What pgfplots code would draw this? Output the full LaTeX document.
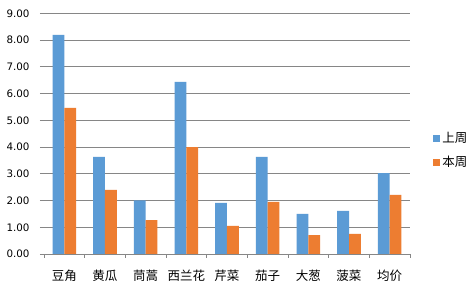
\documentclass[border=0pt]{standalone}
\usepackage{pgfplots}
\pgfplotsset{compat=1.18}
\usepackage{fontspec}
\setmainfont{DejaVu Sans}
\newfontfamily\cjk{Noto Sans CJK SC}
\definecolor{cblue}{HTML}{5B9BD5}
\definecolor{corange}{HTML}{ED7D31}
\definecolor{gridgray}{RGB}{134,134,134}
\begin{document}
\begin{tikzpicture}
\useasboundingbox (0,0) rectangle (471pt,288pt);
\fill[white] (0,0) rectangle (471pt,288pt);
\begin{axis}[
  at={(44pt,34pt)}, anchor=south west,
  scale only axis, width=366pt, height=240.5pt,
  ybar=0pt, bar width=11.8pt,
  xmin=-0.5, xmax=8.5, ymin=0, ymax=9,
  xtick={-0.5,0.5,...,8.5}, xticklabels={},
  extra x ticks={0,1,2,3,4,5,6,7,8},
  extra x tick labels={豆角,黄瓜,茼蒿,西兰花,芹菜,茄子,大葱,菠菜,均价},
  extra x tick style={tick style={draw=none}, xticklabel style={font=\cjk\fontsize{12.5}{12.5}\selectfont, yshift=-8pt}},
  ytick={0,1,...,9},
  yticklabel={\pgfmathprintnumber[fixed,fixed zerofill,precision=2,assume math mode=true]{\tick}},
  yticklabel style={font=\fontsize{10.3}{12}\selectfont, xshift=-7pt},
  axis line style={draw=none},
  ymajorgrids, grid style={gridgray, line width=0.9pt},
  tick align=outside, xtick pos=bottom, ytick pos=left,
  major tick length=4pt,
  tick style={gridgray, line width=0.9pt},
  legend style={at={(1.055,0.43)}, anchor=west, draw=none, fill=none,
    font=\cjk\fontsize{12.5}{12.5}\selectfont, row sep=8pt},
  legend image code/.code={\fill[#1,draw=none] (0pt,-3.5pt) rectangle (7pt,3.5pt);},
]
\addplot[fill=cblue, draw=none] coordinates {
  (0,8.20) (1,3.63) (2,2.01) (3,6.44) (4,1.91) (5,3.63) (6,1.50) (7,1.61) (8,3.03)};
\addplot[fill=corange, draw=none] coordinates {
  (0,5.47) (1,2.40) (2,1.27) (3,4.00) (4,1.05) (5,1.95) (6,0.71) (7,0.75) (8,2.21)};
\legend{上周,本周}
\end{axis}
\end{tikzpicture}
\end{document}
